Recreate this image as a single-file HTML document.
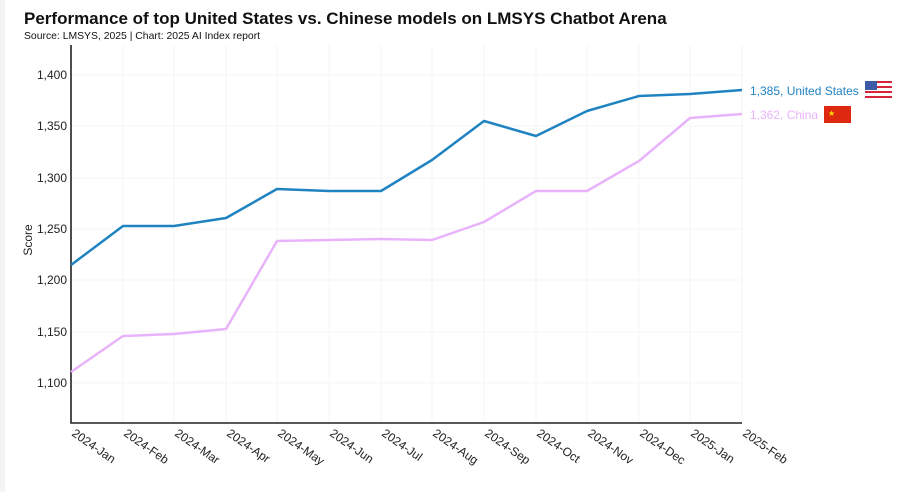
<!DOCTYPE html>
<html><head><meta charset="utf-8"><style>
body{margin:0;background:#fff;}
svg{display:block;font-family:"Liberation Sans",sans-serif;}
</style></head><body>
<svg width="920" height="492" viewBox="0 0 920 492">
<rect width="920" height="492" fill="#fff"/>
<rect x="0" y="0" width="5" height="492" fill="#f3f4f6"/>
<text x="24" y="24" font-size="17" font-weight="bold" fill="#111">Performance of top United States vs. Chinese models on LMSYS Chatbot Arena</text>
<text x="24" y="39" font-size="10.4" fill="#111">Source: LMSYS, 2025 | Chart: 2025 AI Index report</text>
<g stroke="#f6f6f6" stroke-width="1">
<line x1="71" y1="75" x2="742" y2="75"/><line x1="71" y1="126" x2="742" y2="126"/><line x1="71" y1="178" x2="742" y2="178"/><line x1="71" y1="229" x2="742" y2="229"/><line x1="71" y1="280" x2="742" y2="280"/><line x1="71" y1="332" x2="742" y2="332"/><line x1="71" y1="383" x2="742" y2="383"/>
<line x1="123" y1="45" x2="123" y2="423"/><line x1="174" y1="45" x2="174" y2="423"/><line x1="226" y1="45" x2="226" y2="423"/><line x1="277" y1="45" x2="277" y2="423"/><line x1="329" y1="45" x2="329" y2="423"/><line x1="381" y1="45" x2="381" y2="423"/><line x1="432" y1="45" x2="432" y2="423"/><line x1="484" y1="45" x2="484" y2="423"/><line x1="536" y1="45" x2="536" y2="423"/><line x1="587" y1="45" x2="587" y2="423"/><line x1="639" y1="45" x2="639" y2="423"/><line x1="690" y1="45" x2="690" y2="423"/><line x1="742" y1="45" x2="742" y2="423"/>
</g>
<polyline fill="none" stroke="#222" stroke-width="1.6" points="71,45 71,423 742,423"/>
<g font-size="12" fill="#222" text-anchor="end">
<text x="67" y="79">1,400</text><text x="67" y="130">1,350</text><text x="67" y="182">1,300</text><text x="67" y="233">1,250</text><text x="67" y="284">1,200</text><text x="67" y="336">1,150</text><text x="67" y="387">1,100</text>
</g>
<text transform="translate(32,240) rotate(-90)" font-size="12" fill="#222" text-anchor="middle">Score</text>
<g font-size="12" fill="#222">
<text transform="translate(71,435) rotate(35)">2024-Jan</text>
<text transform="translate(123,435) rotate(35)">2024-Feb</text>
<text transform="translate(174,435) rotate(35)">2024-Mar</text>
<text transform="translate(226,435) rotate(35)">2024-Apr</text>
<text transform="translate(277,435) rotate(35)">2024-May</text>
<text transform="translate(329,435) rotate(35)">2024-Jun</text>
<text transform="translate(381,435) rotate(35)">2024-Jul</text>
<text transform="translate(432,435) rotate(35)">2024-Aug</text>
<text transform="translate(484,435) rotate(35)">2024-Sep</text>
<text transform="translate(536,435) rotate(35)">2024-Oct</text>
<text transform="translate(587,435) rotate(35)">2024-Nov</text>
<text transform="translate(639,435) rotate(35)">2024-Dec</text>
<text transform="translate(690,435) rotate(35)">2025-Jan</text>
<text transform="translate(742,435) rotate(35)">2025-Feb</text>
</g>
<polyline fill="none" stroke="#1f83c1" stroke-width="2.5" stroke-linejoin="round" points="71,265 123,226 174,226 226,218 277,189 329,191 381,191 432,160 484,121 536,136 587,111 639,96 690,94 742,90"/>
<polyline fill="none" stroke="#e9b3fb" stroke-width="2.5" stroke-linejoin="round" points="71,372 123,336 174,334 226,329 277,241 329,240 381,239 432,240 484,222 536,191 587,191 639,161 690,118 742,114"/>
<text x="750" y="95" font-size="12" fill="#1f83c1">1,385, United States</text>
<text x="750" y="119" font-size="12" fill="#e9b3fb">1,362, China</text>
<g transform="translate(865,81)">
<rect width="27" height="17" fill="#fff"/>
<g fill="#d6243a"><rect y="0" width="27" height="2"/><rect y="5" width="27" height="2"/><rect y="10" width="27" height="2"/><rect y="15" width="27" height="2"/></g>
<rect width="12" height="9" fill="#3c5aa6"/>
</g>
<g transform="translate(824,106)">
<rect width="27" height="17" fill="#de2910"/>
<text x="4" y="10" font-size="8" fill="#ffde00">★</text>
</g>
</svg>
</body></html>
